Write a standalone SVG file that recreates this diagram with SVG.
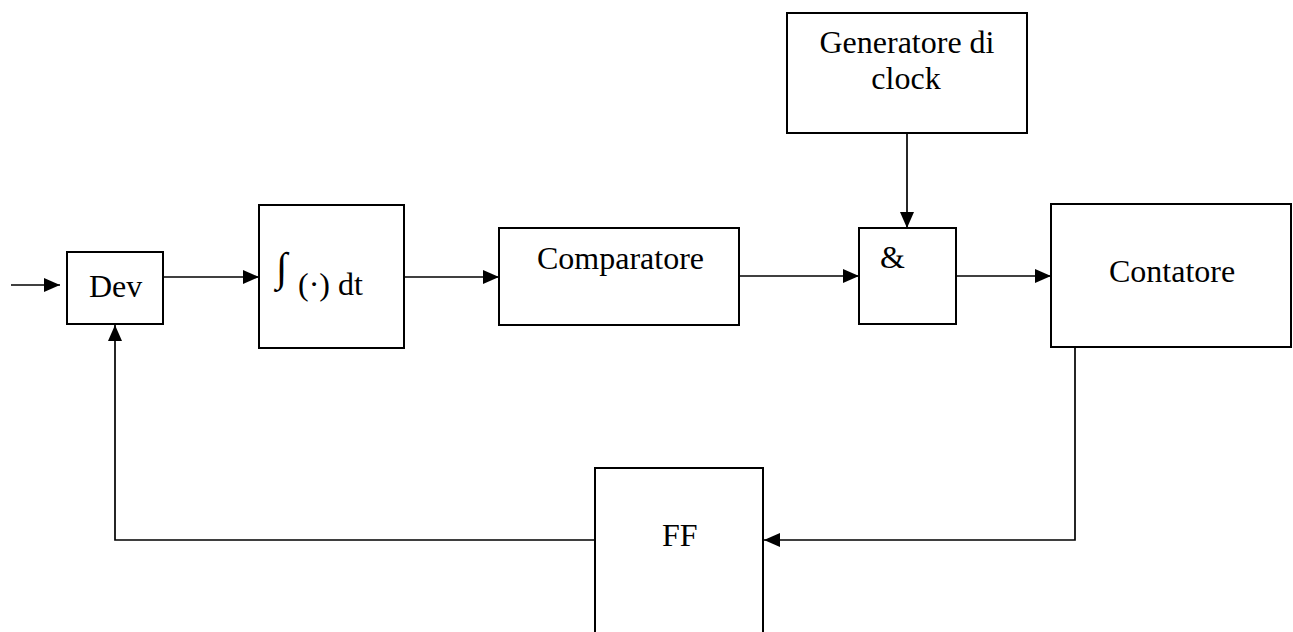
<svg xmlns="http://www.w3.org/2000/svg" width="1293" height="632" viewBox="0 0 1293 632">
<style>
.box{fill:#fff;stroke:#000;stroke-width:2}
.lbl{font-family:"Liberation Serif","Times New Roman",serif;font-size:32px;fill:#000}
.wire{fill:none;stroke:#000;stroke-width:1.7}
</style>
<defs>
<marker id="ah" markerUnits="userSpaceOnUse" markerWidth="17" markerHeight="14" refX="16" refY="7" orient="auto">
<path d="M0,0 L16,7 L0,14 z" fill="#000"/>
</marker>
</defs>
<rect width="1293" height="632" fill="#fff"/>
<g id="connectors">
<line class="wire" x1="11" y1="285" x2="60" y2="285" marker-end="url(#ah)"/>
<line class="wire" x1="163" y1="277" x2="259" y2="277" marker-end="url(#ah)"/>
<line class="wire" x1="404" y1="277" x2="499" y2="277" marker-end="url(#ah)"/>
<line class="wire" x1="739" y1="276" x2="859" y2="276" marker-end="url(#ah)"/>
<line class="wire" x1="907" y1="133" x2="907" y2="228" marker-end="url(#ah)"/>
<line class="wire" x1="956" y1="276" x2="1051" y2="276" marker-end="url(#ah)"/>
<polyline class="wire" points="1075,348 1075,540 764,540" marker-end="url(#ah)"/>
<polyline class="wire" points="595,540 115,540 115,325" marker-end="url(#ah)"/>
</g>
<g id="dev">
<rect class="box" x="67" y="252" width="96" height="72"/>
<text class="lbl" x="89" y="297">Dev</text>
</g>
<g id="integratore">
<rect class="box" x="259" y="205" width="145" height="143"/>
<text class="lbl" x="276" y="281" style="font-size:41px">∫</text>
<text class="lbl" x="298" y="295">(·) dt</text>
</g>
<g id="comparatore">
<rect class="box" x="499" y="228" width="240" height="97"/>
<text class="lbl" x="537" y="269">Comparatore</text>
</g>
<g id="generatore">
<rect class="box" x="787" y="13" width="240" height="120"/>
<text class="lbl" x="907" y="53" text-anchor="middle">Generatore di</text>
<text class="lbl" x="906" y="89" text-anchor="middle">clock</text>
</g>
<g id="and">
<rect class="box" x="859" y="228" width="97" height="96"/>
<text class="lbl" x="880" y="268">&amp;</text>
</g>
<g id="contatore">
<rect class="box" x="1051" y="204" width="240" height="143"/>
<text class="lbl" x="1109" y="282">Contatore</text>
</g>
<g id="ff">
<rect class="box" x="595" y="468" width="168" height="180"/>
<text class="lbl" x="662" y="546">FF</text>
</g>
</svg>
